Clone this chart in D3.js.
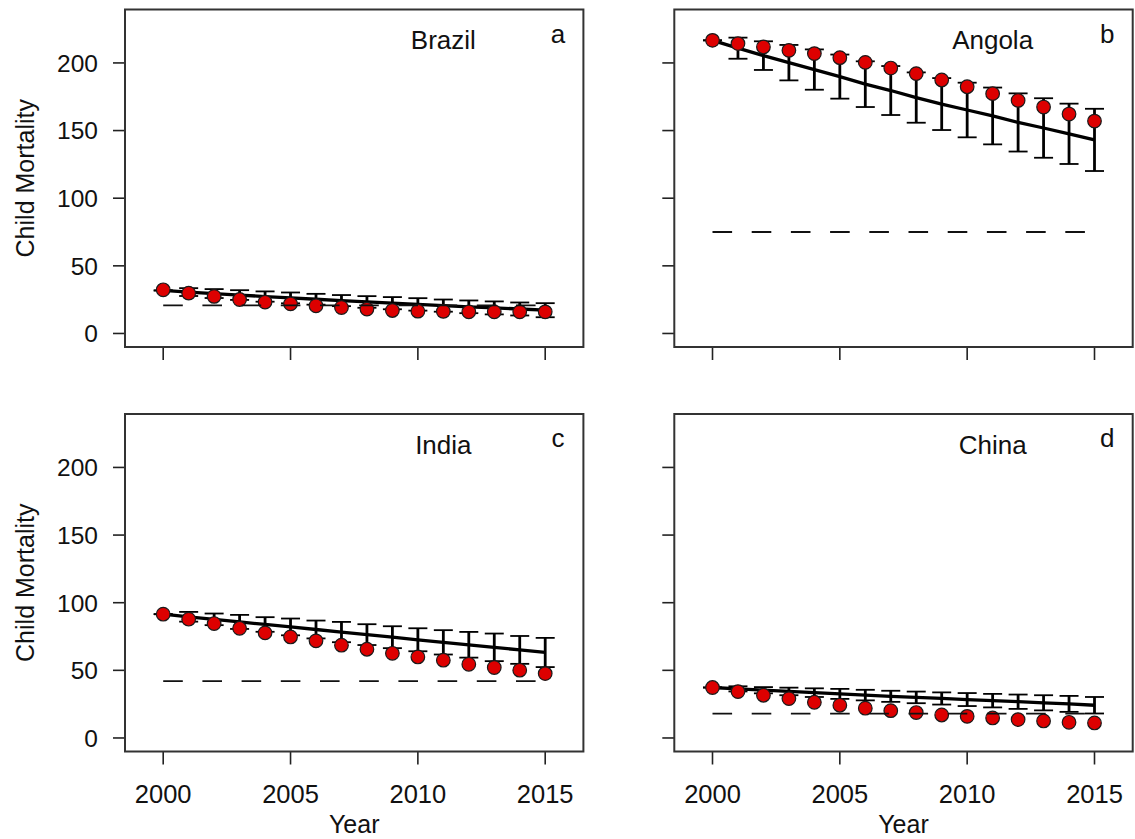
<!DOCTYPE html>
<html>
<head>
<meta charset="utf-8">
<script src="https://cdn.jsdelivr.net/npm/d3@7"></script>
<style>
  body { margin: 0; background: #fff; }
  svg { display: block; }
  text { font-family: "Liberation Sans", Arial, sans-serif; fill: #111; }
</style>
</head>
<body>
<div id="chart"></div>
<script>
// years and axis ticks
const years = [2000, 2001, 2002, 2003, 2004, 2005, 2006, 2007, 2008, 2009, 2010, 2011, 2012, 2013, 2014, 2015]
const xTicks = [2000, 2005, 2010, 2015]
const yTicks = [0, 50, 100, 150, 200]

// observed child mortality (red points)
const brazilObs = [32.3, 29.8, 27.4, 25.1, 23.2, 21.9, 20.5, 19.2, 18.0, 17.0, 16.5, 16.3, 16.0, 16.0, 16.0, 16.0]
const angolaObs = [216.7, 214.3, 211.8, 209.3, 206.9, 203.9, 200.4, 196.2, 192.1, 187.4, 182.4, 177.3, 172.3, 167.4, 162.2, 157.0]
const indiaObs = [91.5, 87.8, 84.6, 81.1, 77.7, 74.7, 71.8, 68.6, 65.6, 62.6, 59.9, 57.5, 54.5, 52.1, 50.1, 47.6]
const chinaObs = [37.3, 34.3, 31.6, 29.1, 26.4, 24.2, 22.0, 20.2, 18.8, 17.0, 16.0, 14.8, 13.6, 12.6, 11.6, 11.1]

// projected trend (solid line) and half width of its error bars
const brazilTrend = [31.8, 30.6, 29.5, 28.4, 27.3, 26.3, 25.3, 24.3, 23.3, 22.4, 21.5, 20.6, 19.7, 18.9, 18.1, 17.2]
const brazilErr = [0, 2.9, 3.3, 3.6, 3.8, 4.0, 4.0, 4.1, 4.3, 4.5, 4.6, 4.5, 4.7, 4.8, 4.8, 5.2]
const angolaTrend = [216.7, 210.9, 205.4, 200.2, 195.1, 189.9, 184.3, 179.6, 174.4, 169.6, 165.2, 160.8, 156.0, 151.9, 147.6, 143.1]
const angolaErr = [0, 7.8, 10.6, 13.1, 14.9, 16.3, 16.9, 18.1, 18.6, 19.2, 20.2, 21.0, 21.5, 22.0, 22.3, 23.0]
const indiaTrend = [91.5, 89.6, 87.7, 85.8, 83.9, 82.1, 80.2, 78.3, 76.4, 74.5, 72.6, 70.7, 68.9, 67.0, 65.1, 63.2]
const indiaErr = [0, 3.6, 4.3, 5.2, 5.4, 6.2, 6.6, 7.5, 7.7, 8.1, 8.5, 9.0, 9.5, 10.2, 10.3, 10.8]
const chinaTrend = [37.3, 36.3, 35.3, 34.4, 33.5, 32.6, 31.7, 30.8, 30.0, 29.2, 28.4, 27.6, 26.8, 26.0, 25.2, 24.2]
const chinaErr = [0, 1.9, 2.3, 2.8, 3.2, 3.7, 3.9, 4.1, 4.3, 4.5, 4.8, 5.0, 5.3, 5.6, 5.9, 6.1]

// target levels (dashed line)
const targets = [20.7, 75, 42, 18]
const countries = ['Brazil', 'Angola', 'India', 'China']
const tags = ['a', 'b', 'c', 'd']

const panels = [
  { obs: brazilObs, trend: brazilTrend, err: brazilErr },
  { obs: angolaObs, trend: angolaTrend, err: angolaErr },
  { obs: indiaObs, trend: indiaTrend, err: indiaErr },
  { obs: chinaObs, trend: chinaTrend, err: chinaErr }
].map((p, i) => ({
  ...p,
  name: countries[i],
  tag: tags[i],
  target: targets[i],
  col: i % 2,
  row: Math.floor(i / 2)
}))

const W = 1135
const H = 839
const colX = [125, 674.3]
const rowY = [9.5, 414]
const pw = 458.4
const ph = 337.5

const svg = d3.select('#chart').append('svg').attr('width', W).attr('height', H)

const x = d3.scaleLinear().domain([1998.5, 2016.5]).range([0, pw])
const y = d3.scaleLinear().domain([-10, 239.5]).range([ph, 0])

const line = d3.line().x((d, i) => x(years[i])).y(d => y(d))

panels.forEach(p => {
  const g = svg.append('g').attr('transform', `translate(${colX[p.col]},${rowY[p.row]})`)

  // y ticks
  g.selectAll('.yt')
    .data(yTicks)
    .join('line')
    .attr('x1', -12).attr('x2', 0)
    .attr('y1', d => y(d)).attr('y2', d => y(d))
    .attr('stroke', '#222').attr('stroke-width', 1.6)

  // x ticks
  g.selectAll('.xt')
    .data(xTicks)
    .join('line')
    .attr('x1', d => x(d)).attr('x2', d => x(d))
    .attr('y1', ph).attr('y2', ph + 13)
    .attr('stroke', '#222').attr('stroke-width', 1.6)

  if (p.col === 0) {
    g.selectAll('.yl')
      .data(yTicks)
      .join('text')
      .attr('x', -27)
      .attr('y', d => y(d))
      .attr('dy', '0.36em')
      .attr('text-anchor', 'end')
      .attr('font-size', 24.5)
      .text(d => d)

    g.append('text')
      .attr('transform', `translate(-91,${ph / 2}) rotate(-90)`)
      .attr('text-anchor', 'middle')
      .attr('font-size', 25)
      .text('Child Mortality')
  }

  if (p.row === 1) {
    g.selectAll('.xl')
      .data(xTicks)
      .join('text')
      .attr('x', d => x(d))
      .attr('y', ph + 51)
      .attr('text-anchor', 'middle')
      .attr('font-size', 25.5)
      .text(d => d)

    g.append('text')
      .attr('x', pw / 2)
      .attr('y', ph + 81)
      .attr('text-anchor', 'middle')
      .attr('font-size', 25)
      .text('Year')
  }

  // trend line
  g.append('path')
    .datum(p.trend)
    .attr('d', line)
    .attr('fill', 'none')
    .attr('stroke', '#000')
    .attr('stroke-width', 3.3)

  // error bars around the trend
  const bars = g.append('g').attr('stroke', '#000')
  p.trend.forEach((m, i) => {
    const cx = x(years[i])
    const lo = y(m - p.err[i])
    const hi = y(m + p.err[i])
    bars.append('line')
      .attr('x1', cx).attr('x2', cx).attr('y1', lo).attr('y2', hi)
      .attr('stroke-width', 2.8)
    ;[lo, hi].forEach(v => {
      bars.append('line')
        .attr('x1', cx - 9.5).attr('x2', cx + 9.5).attr('y1', v).attr('y2', v)
        .attr('stroke-width', 1.8)
    })
  })

  // observed points
  g.selectAll('circle')
    .data(p.obs)
    .join('circle')
    .attr('cx', (d, i) => x(years[i]))
    .attr('cy', d => y(d))
    .attr('r', 6.8)
    .attr('fill', '#dd0000')
    .attr('stroke', '#1a1a1a')
    .attr('stroke-width', 1.2)

  // target level
  g.append('line')
    .attr('x1', x(2000)).attr('x2', x(2015))
    .attr('y1', y(p.target)).attr('y2', y(p.target))
    .attr('stroke', '#111')
    .attr('stroke-width', 1.8)
    .attr('stroke-dasharray', '19.6,19.6')

  // labels
  g.append('text')
    .attr('x', x(2011)).attr('y', y(210))
    .attr('text-anchor', 'middle')
    .attr('font-size', 26)
    .text(p.name)

  g.append('text')
    .attr('x', x(2015.5)).attr('y', y(215))
    .attr('text-anchor', 'middle')
    .attr('font-size', 26)
    .text(p.tag)

  // frame
  g.append('rect')
    .attr('width', pw).attr('height', ph)
    .attr('fill', 'none')
    .attr('stroke', '#333')
    .attr('stroke-width', 2)
})
</script>
</body>
</html>
